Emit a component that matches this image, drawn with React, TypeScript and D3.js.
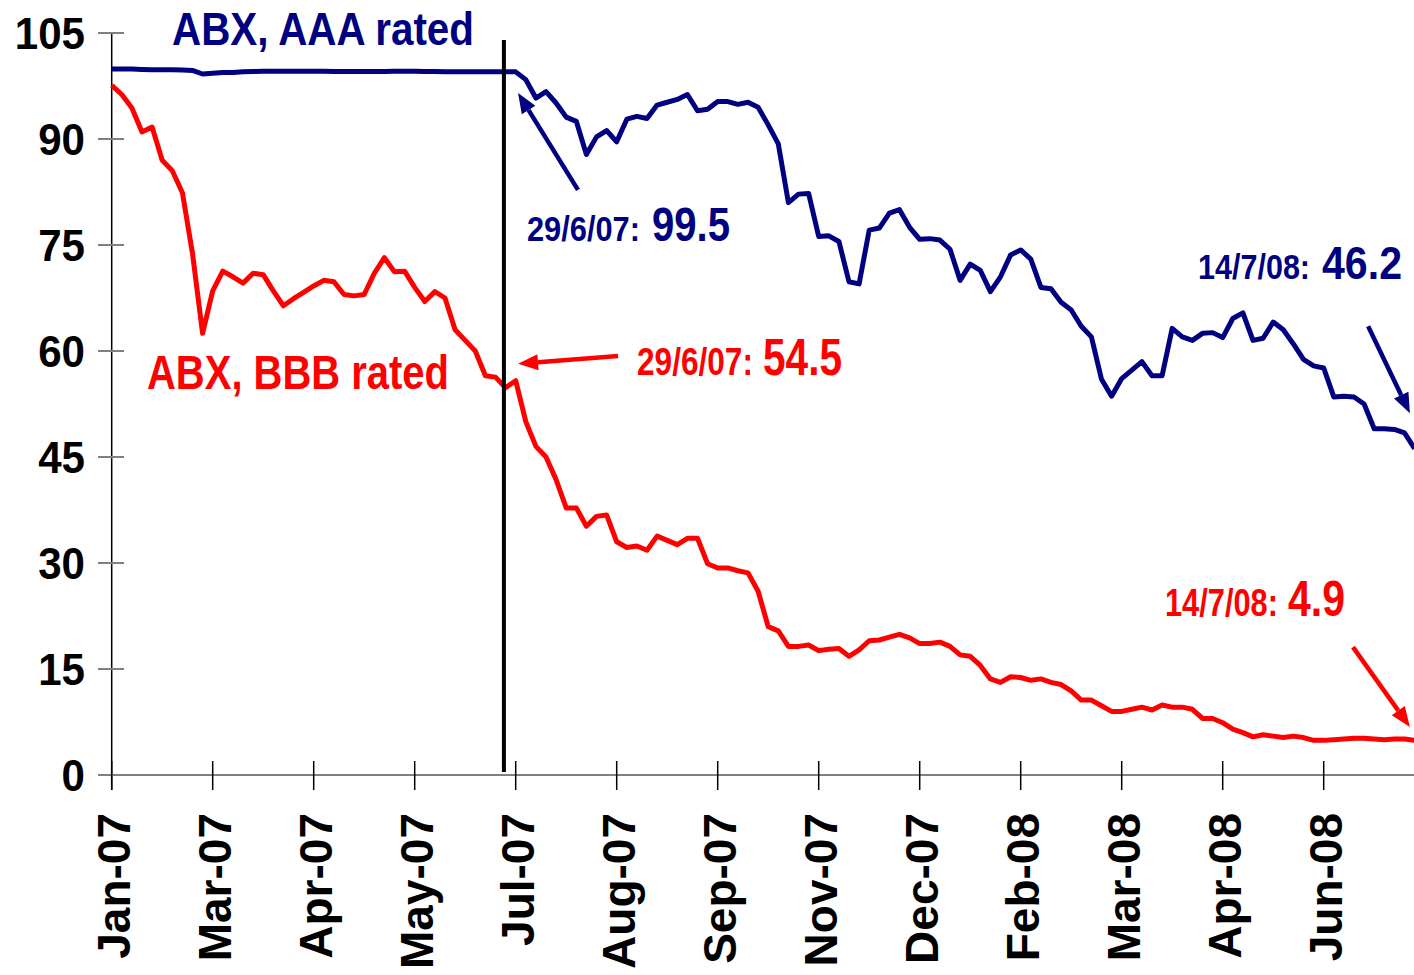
import React, { useLayoutEffect, useRef, useState } from "react";
import * as d3 from "d3";

// ---- data (trading-day index, sampled every 3 days; last point = 14/7/08) ----
const tickLabels = ["Jan-07", "Mar-07", "Apr-07", "May-07", "Jul-07", "Aug-07", "Sep-07", "Nov-07", "Dec-07", "Feb-08", "Mar-08", "Apr-08", "Jun-08"];
const yTicks = [0, 15, 30, 45, 60, 75, 90, 105];

const aaaValues = [
  99.9, 99.9, 99.9, 99.85, 99.8, 99.8, 99.8, 99.75, 99.7, 99.2,
  99.3, 99.4, 99.4, 99.5, 99.55, 99.6, 99.6, 99.6, 99.6, 99.6,
  99.6, 99.6, 99.55, 99.55, 99.55, 99.55, 99.55, 99.55, 99.6, 99.6,
  99.6, 99.55, 99.55, 99.5, 99.5, 99.5, 99.5, 99.5, 99.5, 99.5,
  99.5, 98.4, 95.8, 96.7, 95.1, 93.1, 92.5, 87.8, 90.3, 91.2,
  89.6, 92.8, 93.2, 92.9, 94.8, 95.2, 95.6, 96.3, 94.0, 94.2,
  95.3, 95.3, 94.9, 95.2, 94.5, 92.0, 89.3, 81.0, 82.2, 82.3,
  76.2, 76.3, 75.5, 69.8, 69.5, 77.1, 77.4, 79.5, 80.0, 77.5,
  75.8, 75.9, 75.7, 74.4, 70.0, 72.3, 71.4, 68.4, 70.5, 73.6,
  74.3, 73.0, 69.0, 68.8, 66.9, 65.8, 63.5, 62.0, 56.0, 53.6,
  56.1, 57.3, 58.5, 56.5, 56.5, 63.2, 62.0, 61.5, 62.5, 62.6,
  61.9, 64.6, 65.4, 61.5, 61.8, 64.1, 63.0, 61.0, 58.8, 57.9,
  57.6, 53.5, 53.6, 53.5, 52.5, 49.0, 49.0, 48.9, 48.4, 46.2,
];

const bbbValues = [
  97.6, 96.3, 94.4, 91.0, 91.7, 87.0, 85.5, 82.4, 73.8, 62.5,
  68.5, 71.3, 70.5, 69.6, 71.0, 70.8, 68.5, 66.4, 67.4, 68.3,
  69.2, 70.0, 69.8, 68.0, 67.8, 68.0, 71.0, 73.2, 71.2, 71.3,
  69.0, 67.0, 68.4, 67.5, 63.0, 61.5, 60.0, 56.5, 56.3, 54.8,
  55.8, 50.0, 46.5, 45.0, 41.8, 37.8, 37.8, 35.2, 36.6, 36.8,
  33.0, 32.2, 32.4, 31.8, 33.8, 33.2, 32.6, 33.5, 33.5, 29.9,
  29.3, 29.3, 28.9, 28.6, 26.0, 21.0, 20.4, 18.2, 18.2, 18.4,
  17.6, 17.8, 17.9, 16.8, 17.7, 19.0, 19.1, 19.5, 19.9, 19.4,
  18.6, 18.6, 18.8, 18.2, 17.0, 16.8, 15.5, 13.6, 13.1, 13.9,
  13.8, 13.4, 13.6, 13.1, 12.8, 11.9, 10.6, 10.6, 9.8, 9.0,
  9.0, 9.3, 9.6, 9.2, 9.9, 9.6, 9.6, 9.3, 8.0, 8.0,
  7.4, 6.5, 6.0, 5.4, 5.7, 5.5, 5.3, 5.5, 5.3, 4.9,
  4.9, 5.0, 5.1, 5.2, 5.2, 5.1, 5.0, 5.1, 5.1, 4.9,
];

const DAY_STEP = 3;
const LAST_DAY = 387;
const TICK_EVERY = 30;
const MARKER_DAY = 116.5; // 29/6/07

const NAVY = "#000080";
const RED = "#FF0000";
const FONT = "'Liberation Sans', Arial, Helvetica, sans-serif";

function Arrow({ x1, y1, x2, y2, color }: { x1: number; y1: number; x2: number; y2: number; color: string }) {
  const ang = Math.atan2(y2 - y1, x2 - x1);
  const len = 20, half = 8;
  const bx = x2 - len * Math.cos(ang), by = y2 - len * Math.sin(ang);
  const px = -Math.sin(ang) * half, py = Math.cos(ang) * half;
  return (
    <g>
      <line x1={x1} y1={y1} x2={bx} y2={by} stroke={color} strokeWidth={4.5} />
      <polygon points={`${x2},${y2} ${bx + px},${by + py} ${bx - px},${by - py}`} fill={color} />
    </g>
  );
}

// Text squeezed horizontally (as in the source) to a given width, via a real scale transform.
function FitText({ x, y, size, len, color = "#000", text, anchor = "start" }:
  { x: number; y: number; size: number; len: number; color?: string; text: string; anchor?: "start" | "end" }) {
  const ref = useRef<SVGTextElement>(null);
  const [sx, setSx] = useState(0.85);
  useLayoutEffect(() => {
    if (ref.current) {
      const w = ref.current.getComputedTextLength();
      if (w > 0) setSx(len / w);
    }
  }, [len, text, size]);
  return (
    <g transform={`translate(${x},${y}) scale(${sx},1)`}>
      <text ref={ref} x={0} y={0} fontSize={size} fill={color} fontWeight="bold" fontFamily={FONT}
        textAnchor={anchor}>{text}</text>
    </g>
  );
}

export default function App() {
  const W = 1414, H = 975;
  const x0 = 111.7;
  const pxPerDay = 101 / TICK_EVERY;
  const x = d3.scaleLinear().domain([0, LAST_DAY]).range([x0, x0 + LAST_DAY * pxPerDay]);
  const y = d3.scaleLinear().domain([0, 105]).range([775, 33]);

  const dayOf = (i: number, n: number) => (i === n - 1 ? LAST_DAY : i * DAY_STEP);
  const line = d3.line<number>()
    .x((_d, i, arr) => x(dayOf(i, (arr as number[]).length)))
    .y((d) => y(d));

  const xTickDays = tickLabels.map((_, i) => i * TICK_EVERY);

  return (
    <svg width={W} height={H} style={{ position: "absolute", left: 0, top: 0, background: "#fff" }}>
      <rect x={0} y={0} width={W} height={H} fill="#fff" />
      {/* y axis */}
      <line x1={x0} y1={y(105)} x2={x0} y2={790} stroke="#000" strokeWidth={1.5} />
      {yTicks.map((t) => (
        <g key={t}>
          <line x1={98} x2={124} y1={y(t)} y2={y(t)} stroke="#808080" strokeWidth={2} />
          <FitText x={85} y={y(t) + 16} size={44} len={23.4 * String(t).length} text={String(t)} anchor="end" />
        </g>
      ))}
      {/* x axis */}
      <line x1={x0} x2={W} y1={y(0)} y2={y(0)} stroke="#808080" strokeWidth={2} />
      {xTickDays.map((d, i) => (
        <g key={i}>
          <line x1={x(d)} x2={x(d)} y1={761} y2={790} stroke="#000" strokeWidth={1.5} />
          <text transform={`translate(${x(d) + 18},${813}) rotate(-90)`} textAnchor="end"
            fontSize={46} fontWeight="bold" fontFamily={FONT}>{tickLabels[i]}</text>
        </g>
      ))}

      {/* series */}
      <path d={line(bbbValues) || ""} fill="none" stroke={RED} strokeWidth={5} strokeLinejoin="round" />
      <path d={line(aaaValues) || ""} fill="none" stroke={NAVY} strokeWidth={5} strokeLinejoin="round" />

      {/* 29/6/07 marker */}
      <line x1={x(MARKER_DAY)} x2={x(MARKER_DAY)} y1={40} y2={772} stroke="#000" strokeWidth={4} />

      {/* series labels */}
      <FitText x={172} y={45} size={47} len={302} color={NAVY} text="ABX, AAA rated" />
      <FitText x={147} y={389} size={48} len={302} color={RED} text="ABX, BBB rated" />

      {/* annotations */}
      <Arrow x1={x(138.5)} y1={y(82.8)} x2={x(120.7)} y2={y(96.5)} color={NAVY} />
      <FitText x={527} y={241} size={35} len={113} color={NAVY} text="29/6/07:" />
      <FitText x={652} y={241} size={48} len={78} color={NAVY} text="99.5" />

      <Arrow x1={x(150.4)} y1={y(59.3)} x2={x(120.7)} y2={y(58.2)} color={RED} />
      <FitText x={637} y={375} size={38} len={116} color={RED} text="29/6/07:" />
      <FitText x={763} y={375} size={51} len={79} color={RED} text="54.5" />

      <Arrow x1={x(373.2)} y1={y(63.5)} x2={x(385.6)} y2={y(51.2)} color={NAVY} />
      <FitText x={1198} y={279} size={36} len={112} color={NAVY} text="14/7/08:" />
      <FitText x={1322} y={279} size={47} len={80} color={NAVY} text="46.2" />

      <Arrow x1={x(368.7)} y1={y(18.1)} x2={x(385.6)} y2={y(6.8)} color={RED} />
      <FitText x={1165} y={616} size={39} len={113} color={RED} text="14/7/08:" />
      <FitText x={1288} y={616} size={50} len={57} color={RED} text="4.9" />
    </svg>
  );
}
